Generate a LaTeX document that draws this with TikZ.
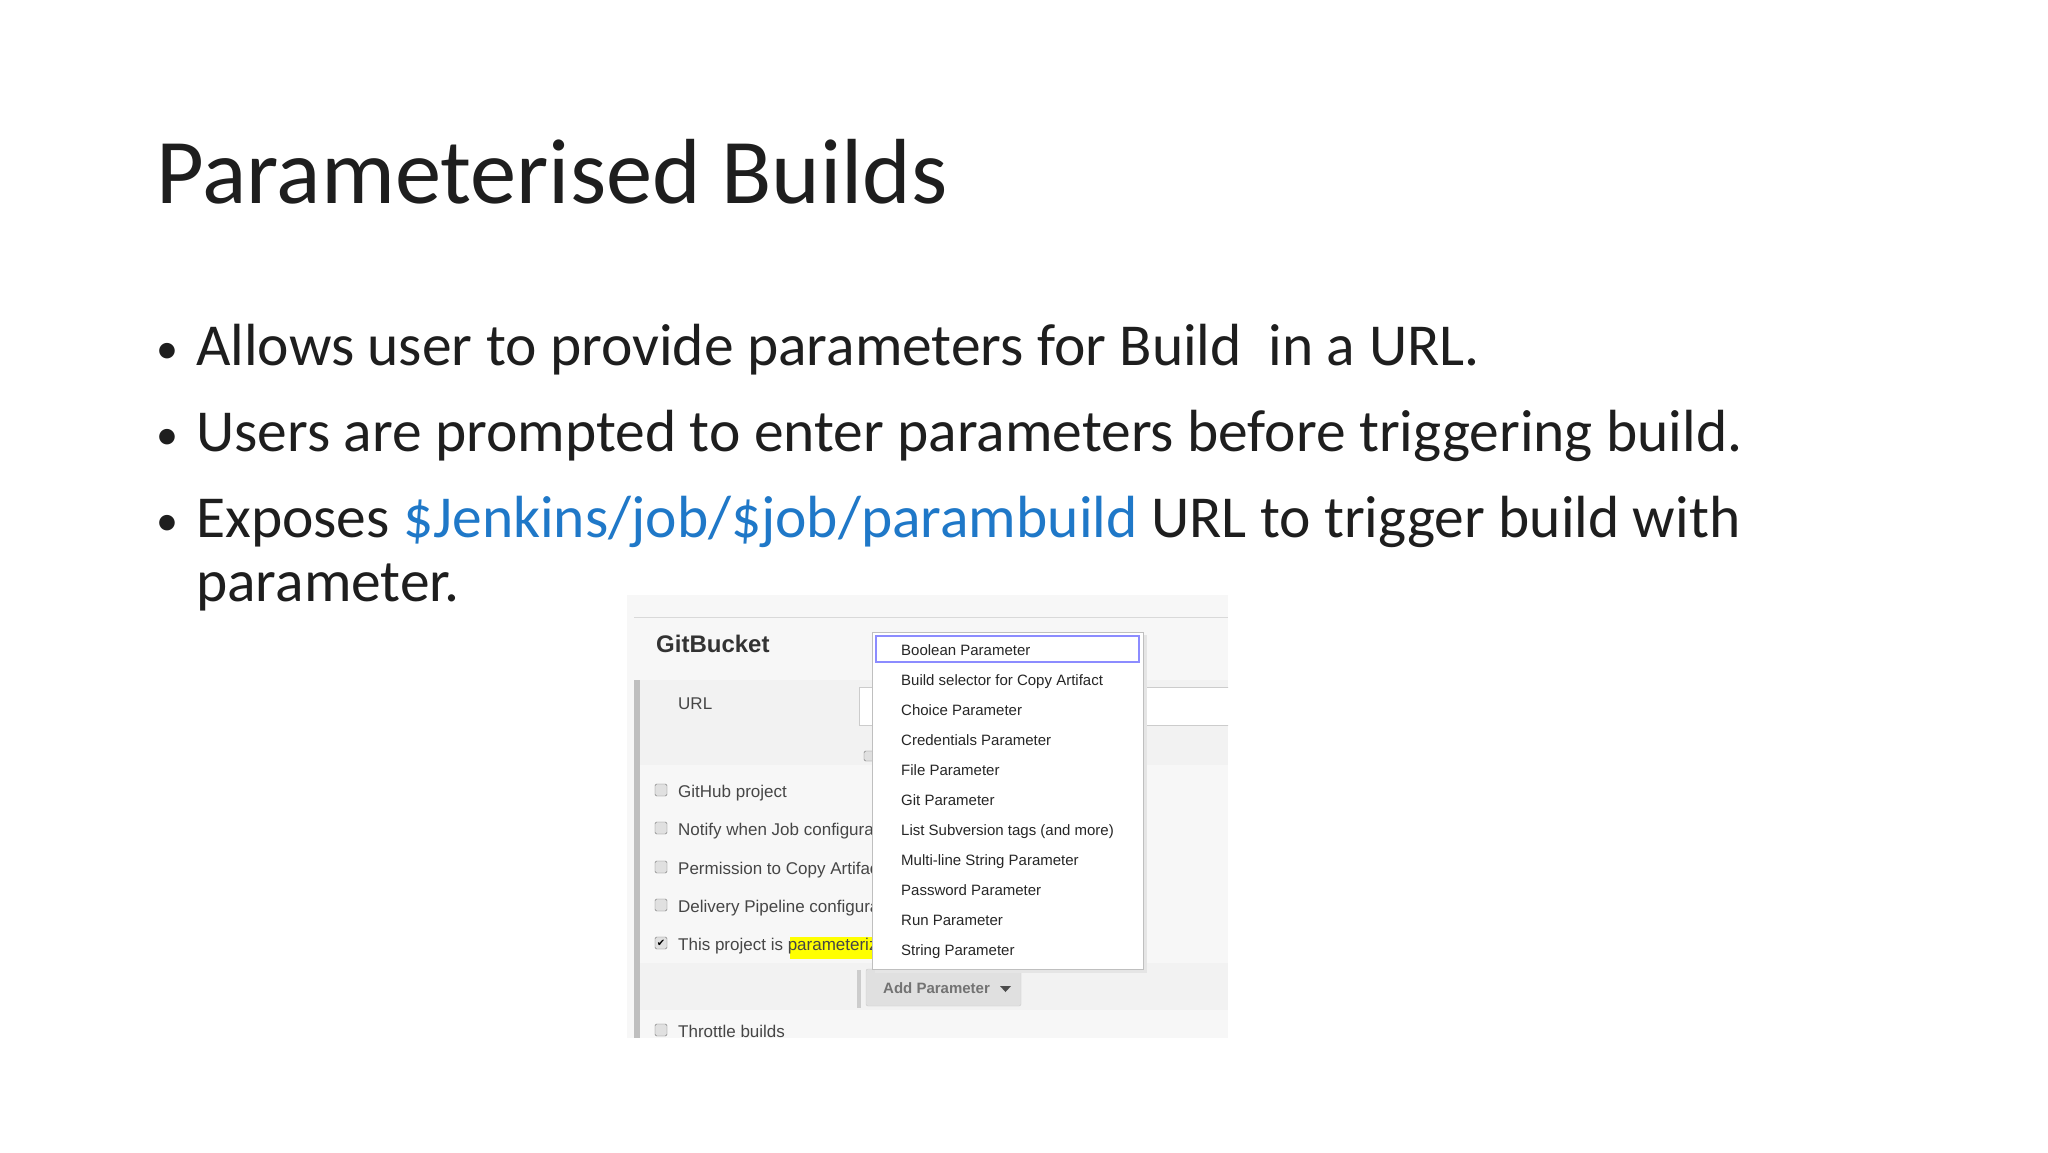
\documentclass[tikz,border=0pt]{standalone}
\usepackage{fontspec}
\setmainfont{Carlito}
\newfontfamily\arial{Liberation Sans}
\newfontfamily\dejavu{DejaVu Sans}
\definecolor{linkblue}{RGB}{31,120,200}
\definecolor{txt}{RGB}{30,30,30}
\definecolor{uitxt}{RGB}{70,70,70}
\definecolor{hl}{RGB}{255,255,0}
\begin{document}
\begin{tikzpicture}[x=1pt,y=-1pt,
  bul/.style={anchor=base west,inner sep=0pt,font=\fontsize{59.5}{66}\selectfont,text=txt},
  dot/.style={anchor=base west,inner sep=0pt,font=\fontsize{44}{50}\selectfont,text=txt},
  ui/.style={anchor=base west,inner sep=0pt,font=\arial\fontsize{17}{20}\selectfont,text=uitxt},
  item/.style={anchor=base west,inner sep=0pt,font=\arial\fontsize{15}{17}\selectfont,text=black!85},
  cb/.style={draw=black!55,fill=black!12,rounded corners=1.5pt,minimum size=12pt,inner sep=0pt}]
\fill[white] (0,0) rectangle (2048,1152);
\useasboundingbox (0,0) rectangle (2048,1152);
\node[anchor=base west,inner sep=0pt,font=\fontsize{92.5}{100}\selectfont,text=txt] (title) at (156,203) {Parameterised Builds};
\node[dot] (b1) at (156,363) {•};
\node[bul] (t1) at (196,365) {Allows user to provide parameters for Build\ \ in a URL.};
\node[dot] (b2) at (156,449) {•};
\node[bul] (t2) at (196,451) {Users are prompted to enter parameters before triggering build.};
\node[dot] (b3) at (156,535) {•};
\node[bul] (t3) at (196,537) {Exposes \textcolor{linkblue}{\$Jenkins/job/\$job/parambuild} URL to trigger build with};
\node[bul] (t4) at (196,601) {parameter.};
% screenshot
\begin{scope}
\clip (627,595) rectangle (1228,1038);
\fill[black!3] (627,595) rectangle (1228,1038);
\draw[black!15] (634,617) -- (1228,617);
\fill[black!5] (636,680) rectangle (1228,765);
\fill[black!5] (636,963) rectangle (1228,1010);
\fill[black!25] (634,680) rectangle (640,1038);
\fill[white,draw=black!20] (859,687) rectangle (1240,725);
\node[cb,minimum size=10pt] (c0) at (869,756) {};
\fill[black!20] (857,970) rectangle (861,1008);
\fill[black!12,draw=black!20,rounded corners=2pt] (866,969) rectangle (1021,1006);
\node[ui,font=\arial\bfseries\fontsize{24}{28}\selectfont,text=black!80] (gb) at (656,652) {GitBucket};
\node[ui] (url) at (678,709) {URL};
\node[cb] (c1) at (661,790) {}; \node[ui] (l1) at (678,797) {GitHub project};
\node[cb] (c2) at (661,828) {}; \node[ui] (l2) at (678,835) {Notify when Job configuration changes};
\node[cb] (c3) at (661,867) {}; \node[ui] (l3) at (678,874) {Permission to Copy Artifact};
\node[cb] (c4) at (661,905) {}; \node[ui] (l4) at (678,912) {Delivery Pipeline configuration};
\node[cb] (c5) at (661,943) {\dejavu\fontsize{10}{10}\selectfont ✔};
\fill[hl] (790,937) rectangle (872,959);
\node[ui] (l5) at (678,950) {This project is parameterized};
\node[cb] (c6) at (661,1030) {}; \node[ui] (l6) at (678,1037) {Throttle builds};
\node[ui,font=\arial\bfseries\fontsize{15}{18}\selectfont,text=black!55] (add) at (883,993) {Add Parameter};
\fill[black!70] (1000,986) -- (1011,986) -- (1005.5,992) -- cycle;
\fill[black!10] (875,635) rectangle (1147,973);
\fill[white,draw=black!25] (872,632) rectangle (1143,969);
\draw[blue!45,line width=1.3pt] (876,636) rectangle (1139,662);
\foreach \t [count=\i from 0] in {Boolean Parameter,Build selector for Copy Artifact,Choice Parameter,Credentials Parameter,File Parameter,Git Parameter,List Subversion tags (and more),Multi-line String Parameter,Password Parameter,Run Parameter,String Parameter}
  \node[item] (it\i) at (901,{655+30*\i}) {\t};
\end{scope}
\end{tikzpicture}
\end{document}
